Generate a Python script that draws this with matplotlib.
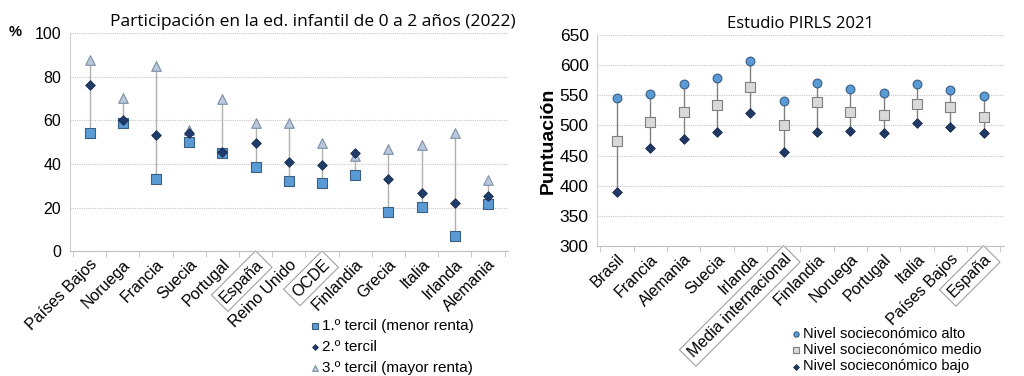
import numpy as np
import matplotlib.pyplot as plt

plt.rcParams['font.family'] = ['Liberation Sans', 'DejaVu Sans']

# --- datos: participación en educación infantil 0-2 años (2022) ---
paises_inf = ['Países Bajos', 'Noruega', 'Francia', 'Suecia', 'Portugal', 'España',
              'Reino Unido', 'OCDE', 'Finlandia', 'Grecia', 'Italia', 'Irlanda', 'Alemania']
tercil1 = [54.3, 58.9, 33.0, 50.2, 45.1, 38.7, 32.1, 31.4, 34.8, 17.9, 20.2, 6.9, 21.6]
tercil2 = [76.2, 60.1, 53.2, 54.0, 45.6, 49.4, 41.0, 39.4, 44.8, 33.3, 26.8, 22.1, 25.2]
tercil3 = [87.7, 70.1, 84.7, 55.5, 69.6, 58.9, 59.0, 49.8, 43.6, 46.8, 48.6, 54.3, 32.5]

# --- datos: PIRLS 2021 ---
paises_pirls = ['Brasil', 'Francia', 'Alemania', 'Suecia', 'Irlanda', 'Media internacional',
                'Finlandia', 'Noruega', 'Portugal', 'Italia', 'Países Bajos', 'España']
nivel_alto = [545, 552, 568, 579, 607, 541, 570, 560, 554, 569, 559, 549]
nivel_medio = [474, 505, 523, 534, 563, 500, 538, 522, 517, 536, 530, 514]
nivel_bajo = [390, 462, 478, 489, 520, 455, 489, 491, 488, 504, 497, 488]

destacados = {'España', 'OCDE', 'Media internacional'}

fig = plt.figure(figsize=(10.24, 3.76), dpi=100)
ax1 = fig.add_axes([0.068, 0.332, 0.428, 0.580])
ax2 = fig.add_axes([0.583, 0.346, 0.397, 0.561])


def estilo_ejes(ax, n, labels, fs):
    x = np.arange(n)
    ax.set_xlim(-0.6, n - 0.4)
    ax.set_xticks(x)
    ax.set_xticklabels(labels, rotation=45, ha='right', rotation_mode='anchor', fontsize=fs)
    ax.tick_params(axis='x', which='major', length=0, pad=4)
    ax.set_xticks(np.arange(n + 1) - 0.5, minor=True)
    ax.tick_params(axis='x', which='minor', length=4, color='#bfbfbf', direction='out')
    ax.tick_params(axis='y', length=0, pad=6)
    ax.grid(axis='y', color='#c8c8c8', linestyle=(0, (1, 1)), linewidth=0.8)
    ax.set_axisbelow(True)
    for s in ['top', 'right']:
        ax.spines[s].set_visible(False)
    ax.spines['left'].set_color('#d0d0d0')
    ax.spines['bottom'].set_color('#bfbfbf')
    for lab in ax.get_xticklabels():
        if lab.get_text() in destacados:
            lab.set_bbox(dict(facecolor='white', edgecolor='#a0a0a0', linewidth=0.8, pad=3))


# --- gráfico izquierdo ---
x1 = np.arange(len(paises_inf))
lo = np.minimum(np.minimum(tercil1, tercil2), tercil3)
hi = np.maximum(np.maximum(tercil1, tercil2), tercil3)
ax1.vlines(x1, lo, hi, color='#b0b0b0', linewidth=1, zorder=2)
ax1.scatter(x1, tercil1, marker='s', s=42, color='#5b9bd5', edgecolor='#3a5f85',
            linewidth=0.8, zorder=3, label='1.º tercil (menor renta)')
ax1.scatter(x1, tercil2, marker='D', s=24, color='#1f3d6b', edgecolor='#15294a',
            linewidth=0.6, zorder=4, label='2.º tercil')
ax1.scatter(x1, tercil3, marker='^', s=48, color='#b8c9de', edgecolor='#7f8fa6',
            linewidth=0.8, zorder=3, label='3.º tercil (mayor renta)')
ax1.set_ylim(0, 100)
ax1.set_yticks(range(0, 101, 20))
ax1.tick_params(axis='y', labelsize=11.5)
estilo_ejes(ax1, len(paises_inf), paises_inf, 11.5)
ax1.set_title('Participación en la ed. infantil de 0 a 2 años (2022)', family='Open Sans',
              fontsize=12.5, x=0.555, pad=5)
fig.text(0.008, 0.905, '%', fontsize=10.5, fontweight='bold')
ax1.legend(loc='upper left', bbox_to_anchor=(0.545, -0.31), frameon=False, fontsize=11,
           handletextpad=0.1, labelspacing=0.45, borderaxespad=0, borderpad=0,
           handlelength=0.8, markerscale=0.6)

# --- gráfico derecho ---
x2 = np.arange(len(paises_pirls))
ax2.vlines(x2, nivel_bajo, nivel_alto, color='#808080', linewidth=1, zorder=2)
ax2.scatter(x2, nivel_alto, marker='o', s=40, color='#5b9bd5', edgecolor='#3a5f85',
            linewidth=0.8, zorder=3, label='Nivel socieconómico alto')
ax2.scatter(x2, nivel_medio, marker='s', s=48, color='#d9d9d9', edgecolor='#7f7f7f',
            linewidth=0.8, zorder=3, label='Nivel socieconómico medio')
ax2.scatter(x2, nivel_bajo, marker='D', s=24, color='#1f3864', edgecolor='#15294a',
            linewidth=0.6, zorder=4, label='Nivel socieconómico bajo')
ax2.set_ylim(300, 650)
ax2.set_yticks(range(300, 651, 50))
ax2.tick_params(axis='y', labelsize=12.5)
estilo_ejes(ax2, len(paises_pirls), paises_pirls, 11.5)
ax2.set_title('Estudio PIRLS 2021', family='Open Sans', fontsize=12, pad=5)
ax2.set_ylabel('Puntuación', fontsize=14, fontweight='bold', labelpad=2)
ax2.legend(loc='upper left', bbox_to_anchor=(0.475, -0.385), frameon=False, fontsize=10.5,
           handletextpad=0.1, labelspacing=0.15, borderaxespad=0, borderpad=0,
           handlelength=0.8, markerscale=0.6)

fig.savefig('out.png', dpi=100)
